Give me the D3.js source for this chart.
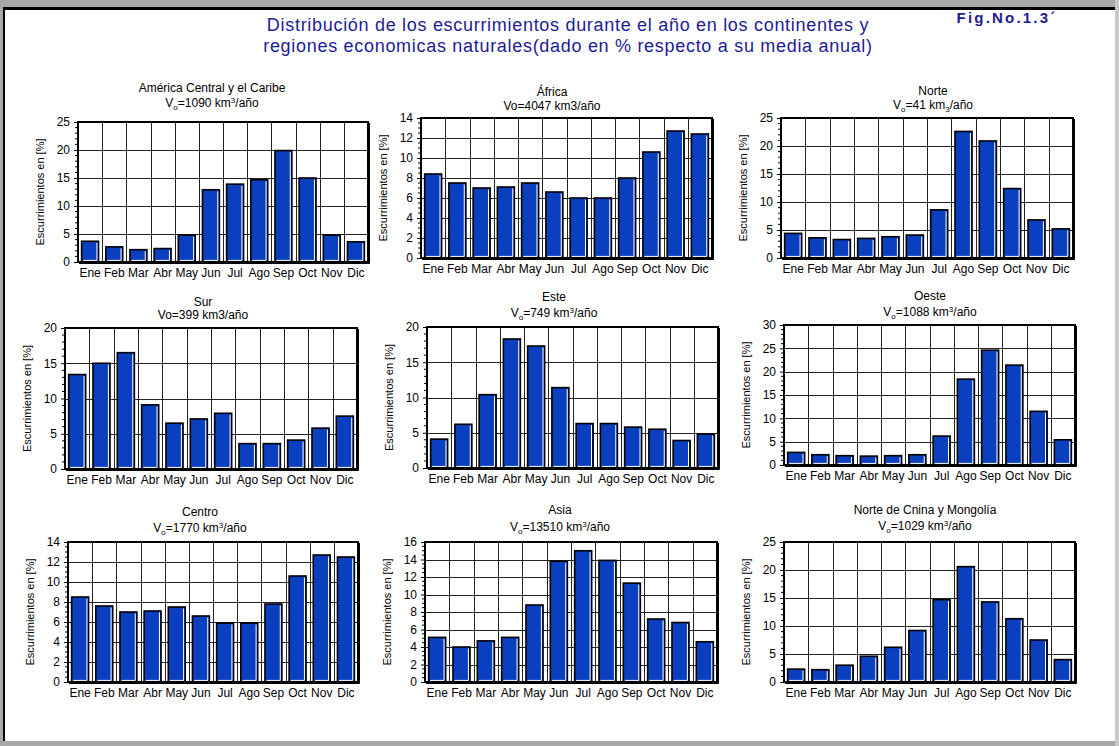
<!DOCTYPE html>
<html>
<head>
<meta charset="utf-8">
<script src="https://cdn.jsdelivr.net/npm/d3@7"></script>
<style>
  html, body { margin: 0; padding: 0; background: #fff; }
  svg { display: block; font-family: "Liberation Sans", Arial, sans-serif; }
</style>
</head>
<body>
<svg id="chart" width="1119" height="746"></svg>
<script>
// Months on the x axis
const months = ["Ene", "Feb", "Mar", "Abr", "May", "Jun", "Jul", "Ago", "Sep", "Oct", "Nov", "Dic"];

// Monthly runoff, % of the annual mean, per region
const americaCentral = [3.7, 2.7, 2.2, 2.4, 4.8, 12.9, 13.9, 14.7, 19.9, 15.0, 4.8, 3.6];
const africa         = [8.4, 7.5, 7.0, 7.1, 7.5, 6.6, 6.0, 6.0, 8.0, 10.6, 12.7, 12.4];
const norte          = [4.4, 3.6, 3.3, 3.5, 3.8, 4.1, 8.6, 22.6, 20.9, 12.4, 6.8, 5.2];
const sur            = [13.4, 15.0, 16.5, 9.1, 6.5, 7.1, 7.9, 3.6, 3.6, 4.1, 5.8, 7.5];
const este           = [4.1, 6.2, 10.4, 18.3, 17.3, 11.4, 6.3, 6.3, 5.8, 5.5, 3.9, 4.8];
const oeste          = [2.7, 2.2, 2.0, 1.9, 2.0, 2.2, 6.2, 18.4, 24.6, 21.4, 11.5, 5.4];
const centro         = [8.5, 7.6, 7.0, 7.1, 7.5, 6.6, 5.9, 5.9, 7.8, 10.6, 12.7, 12.5];
const asia           = [5.1, 4.0, 4.7, 5.1, 8.8, 13.8, 15.0, 13.9, 11.3, 7.2, 6.8, 4.6];
const norteChina     = [2.3, 2.2, 3.0, 4.6, 6.2, 9.2, 14.7, 20.6, 14.3, 11.3, 7.5, 4.0];

// Panel titles and annual volume labels
const regionNames = ["América Central y el Caribe", "África", "Norte", "Sur", "Este", "Oeste",
                     "Centro", "Asia", "Norte de Cnina y Mongolía"];
const volumes = ["1090", "4047", "41", "399", "749", "1088", "1770", "13510", "1029"];
// how the volume line is typeset: "sup" = V subscript o, km superscript 3;
// "plain" = Vo=... km3; "sub" = V subscript o, km subscript 3
const volumeStyle = ["sup", "plain", "sub", "plain", "sup", "sup", "sup", "sup", "sup"];

// Y axis maximum and tick step of each panel
const yMax  = [25, 14, 25, 20, 20, 30, 14, 16, 25];
const yStep = [5, 2, 5, 5, 5, 5, 2, 2, 5];

const seriesList = [americaCentral, africa, norte, sur, este, oeste, centro, asia, norteChina];

const yLabel = "Escurrimientos en [%]";
const titleLines = ["Distribución de los escurrimientos durante el año en los continentes y",
                    "regiones economicas naturales(dado en % respecto a su media anual)"];
const figLabel = "Fig.No.1.3´";

// Plot rectangles (x0, x1, y0, y1) and title anchor (cx, y of first line, y of second line)
const layout = [
  { x0: 78,  x1: 368,  y0: 122, y1: 262, cx: 212, t1: 92,  t2: 107 },
  { x0: 421, x1: 712,  y0: 118, y1: 258, cx: 552, t1: 96,  t2: 110 },
  { x0: 781, x1: 1073, y0: 118, y1: 258, cx: 933, t1: 95,  t2: 109 },
  { x0: 65,  x1: 357,  y0: 328, y1: 469, cx: 203, t1: 306, t2: 319 },
  { x0: 427, x1: 718,  y0: 327, y1: 468, cx: 554, t1: 301, t2: 317 },
  { x0: 784, x1: 1075, y0: 325, y1: 465, cx: 930, t1: 300, t2: 316 },
  { x0: 68,  x1: 358,  y0: 542, y1: 682, cx: 200, t1: 516, t2: 532 },
  { x0: 425, x1: 717,  y0: 542, y1: 682, cx: 560, t1: 514, t2: 531 },
  { x0: 784, x1: 1075, y0: 542, y1: 682, cx: 925, t1: 514, t2: 530 }
];

const barColor = "#0a3fbf";
const svg = d3.select("#chart");

// Page frame
svg.append("rect").attr("x", 0).attr("y", 0).attr("width", 1119).attr("height", 746).attr("fill", "#fff");
svg.append("rect").attr("x", 0).attr("y", 0).attr("width", 1119).attr("height", 7).attr("fill", "#a8a8a8");
svg.append("rect").attr("x", 0).attr("y", 0).attr("width", 3).attr("height", 746).attr("fill", "#a8a8a8");
svg.append("rect").attr("x", 0).attr("y", 741).attr("width", 1119).attr("height", 5).attr("fill", "#a8a8a8");
svg.append("rect").attr("x", 1115).attr("y", 0).attr("width", 4).attr("height", 746).attr("fill", "#c8c8c8");
svg.append("rect").attr("x", 3).attr("y", 7).attr("width", 1112).attr("height", 3).attr("fill", "#000");
svg.append("rect").attr("x", 3).attr("y", 7).attr("width", 2).attr("height", 734).attr("fill", "#000");

// Figure title
const title = svg.append("text")
  .attr("text-anchor", "middle")
  .attr("fill", "#1c1c96")
  .style("font-size", "18px")
  .style("letter-spacing", "0.7px");
titleLines.forEach((line, i) => {
  title.append("tspan").attr("x", 568).attr("y", 31 + i * 21).text(line);
});
svg.append("text")
  .attr("x", 1007).attr("y", 23)
  .attr("text-anchor", "middle")
  .attr("fill", "#1c1c96")
  .style("font-size", "15px")
  .style("font-weight", "bold")
  .style("letter-spacing", "2.2px")
  .text(figLabel);

seriesList.forEach((values, i) => {
  const L = layout[i];
  const g = svg.append("g");

  const x = d3.scaleBand().domain(months).range([L.x0, L.x1]).paddingInner(0.3).paddingOuter(0.15);
  const y = d3.scaleLinear().domain([0, yMax[i]]).range([L.y1, L.y0]);
  const majorTicks = d3.range(0, yMax[i] + yStep[i] / 2, yStep[i]);
  const minorStep = yStep[i] === 5 ? 1 : 0.5;
  const minorTicks = d3.range(0, yMax[i] + minorStep / 2, minorStep)
    .filter(v => Math.abs(v / yStep[i] - Math.round(v / yStep[i])) > 1e-6);

  // panel heading
  const head = g.append("text").attr("text-anchor", "middle").attr("fill", "#000").style("font-size", "12px");
  head.append("tspan").attr("x", L.cx).attr("y", L.t1).text(regionNames[i]);
  const sub = g.append("text").attr("text-anchor", "middle").attr("fill", "#000").style("font-size", "12px")
    .attr("x", L.cx).attr("y", L.t2);
  const st = volumeStyle[i];
  if (st === "plain") {
    sub.text("Vo=" + volumes[i] + " km3/año");
  } else {
    sub.append("tspan").text("V");
    sub.append("tspan").attr("dy", 3).style("font-size", "8px").text("o");
    sub.append("tspan").attr("dy", -3).text("=" + volumes[i] + " km");
    if (st === "sup") {
      sub.append("tspan").attr("dy", -4).style("font-size", "8px").text("3");
      sub.append("tspan").attr("dy", 4).text("/año");
    } else {
      sub.append("tspan").attr("dy", 3).style("font-size", "8px").text("3");
      sub.append("tspan").attr("dy", -3).text("/año");
    }
  }

  // grid: horizontal at major ticks, vertical between months
  g.append("g").selectAll("line").data(majorTicks).join("line")
    .attr("x1", L.x0).attr("x2", L.x1)
    .attr("y1", d => Math.round(y(d)) + 0.5).attr("y2", d => Math.round(y(d)) + 0.5)
    .attr("stroke", "#222").attr("stroke-width", 1);
  g.append("g").selectAll("line").data(months.slice(1)).join("line")
    .attr("x1", d => Math.round(x(d) - x.step() * x.paddingInner() / 2) + 0.5)
    .attr("x2", d => Math.round(x(d) - x.step() * x.paddingInner() / 2) + 0.5)
    .attr("y1", L.y0).attr("y2", L.y1)
    .attr("stroke", "#222").attr("stroke-width", 1);

  // bars
  const bars = g.append("g").selectAll("g").data(values).join("g");
  bars.append("rect")
    .attr("x", (d, j) => x(months[j]))
    .attr("y", d => y(d))
    .attr("width", x.bandwidth())
    .attr("height", d => L.y1 - y(d))
    .attr("fill", barColor)
    .attr("stroke", "#000")
    .attr("stroke-width", 1.6);
  bars.append("polyline")
    .attr("points", (d, j) => {
      const bx = x(months[j]) + x.bandwidth() - 1.6;
      const top = y(d) + 1.5;
      const bot = L.y1 - 1.6;
      const left = x(months[j]) + 1.5;
      return `${bx},${top} ${bx},${bot} ${left},${bot}`;
    })
    .attr("fill", "none")
    .attr("stroke", "#fff")
    .attr("stroke-width", 1);

  // plot frame with a heavier right/bottom edge
  g.append("rect")
    .attr("x", L.x0).attr("y", L.y0)
    .attr("width", L.x1 - L.x0).attr("height", L.y1 - L.y0)
    .attr("fill", "none").attr("stroke", "#000").attr("stroke-width", 2);
  g.append("polyline")
    .attr("points", `${L.x1 + 1.5},${L.y0 + 1} ${L.x1 + 1.5},${L.y1 + 1.5} ${L.x0 + 1},${L.y1 + 1.5}`)
    .attr("fill", "none").attr("stroke", "#000").attr("stroke-width", 1);

  // y axis
  const yAxis = d3.axisLeft(y).tickValues(majorTicks).tickSize(3).tickPadding(4).tickFormat(d3.format("d"));
  const ya = g.append("g").attr("transform", `translate(${L.x0 - 1},0)`).call(yAxis);
  ya.select(".domain").remove();
  ya.selectAll("line").attr("stroke", "#000");
  ya.selectAll("text").attr("fill", "#000").style("font-size", "12px").attr("font-family", null);
  g.append("g").selectAll("line").data(minorTicks).join("line")
    .attr("x1", L.x0 - 3).attr("x2", L.x0 - 1)
    .attr("y1", d => y(d)).attr("y2", d => y(d))
    .attr("stroke", "#000").attr("stroke-width", 1);

  // x axis labels
  const xAxis = d3.axisBottom(x).tickSize(0).tickPadding(6);
  const xa = g.append("g").attr("transform", `translate(0,${L.y1})`).call(xAxis);
  xa.select(".domain").remove();
  xa.selectAll("text").attr("fill", "#000").style("font-size", "12px").attr("font-family", null);

  // y axis title
  g.append("text")
    .attr("transform", `translate(${L.x0 - 34},${(L.y0 + L.y1) / 2}) rotate(-90)`)
    .attr("text-anchor", "middle")
    .attr("fill", "#000")
    .style("font-size", "11px")
    .text(yLabel);
});
</script>
</body>
</html>
